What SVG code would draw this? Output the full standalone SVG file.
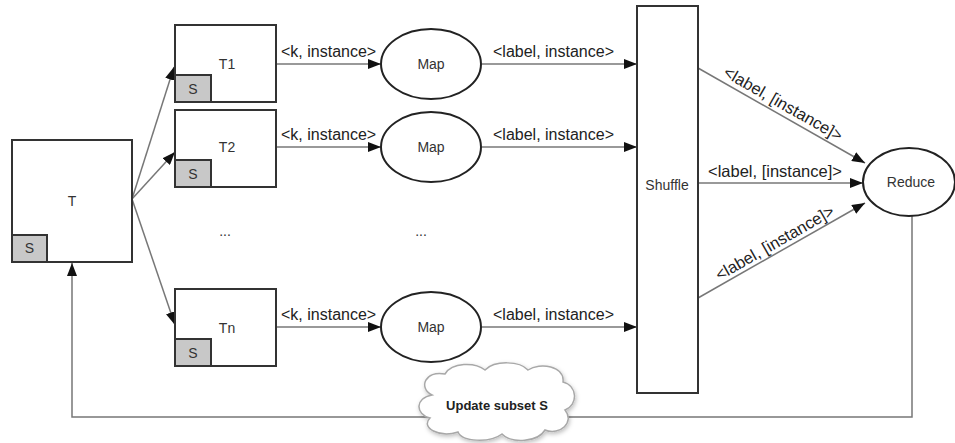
<svg xmlns="http://www.w3.org/2000/svg" width="955" height="443" viewBox="0 0 955 443">
<defs>
<marker id="arr" markerUnits="userSpaceOnUse" markerWidth="14" markerHeight="10" refX="13" refY="5" orient="auto">
<path d="M0,0 L13,5 L0,10 Z" fill="#111"/>
</marker>
<filter id="sh" x="-20%" y="-20%" width="140%" height="150%">
<feDropShadow dx="1" dy="2" stdDeviation="2" flood-color="#000" flood-opacity="0.25"/>
</filter>
</defs>
<style>
.box{fill:#fff;stroke:#333;stroke-width:2}
.sbox{fill:#c8c8c8;stroke:#333;stroke-width:2}
.ell{fill:#fff;stroke:#222;stroke-width:2}
.con{fill:none;stroke:#777;stroke-width:1.5}
.lbl{font-family:"Liberation Sans",Arial,sans-serif;font-size:16px;fill:#222}
.nt{font-family:"Liberation Sans",Arial,sans-serif;font-size:14px;fill:#333;text-anchor:middle}
</style>
<rect width="955" height="443" fill="#fff"/>

<g id="connectors">
<line class="con" x1="132" y1="199" x2="174" y2="67" marker-end="url(#arr)"/>
<line class="con" x1="132" y1="199" x2="175" y2="152" marker-end="url(#arr)"/>
<line class="con" x1="132" y1="199" x2="175" y2="325" marker-end="url(#arr)"/>
<line class="con" x1="276" y1="64" x2="381" y2="64" marker-end="url(#arr)"/>
<line class="con" x1="276" y1="147" x2="381" y2="147" marker-end="url(#arr)"/>
<line class="con" x1="276" y1="327" x2="381" y2="327" marker-end="url(#arr)"/>
<line class="con" x1="482" y1="64" x2="637" y2="64" marker-end="url(#arr)"/>
<line class="con" x1="482" y1="147" x2="637" y2="147" marker-end="url(#arr)"/>
<line class="con" x1="482" y1="327" x2="637" y2="327" marker-end="url(#arr)"/>
<line class="con" x1="698" y1="68" x2="865" y2="163" marker-end="url(#arr)"/>
<line class="con" x1="698" y1="183" x2="863" y2="183" marker-end="url(#arr)"/>
<line class="con" x1="698" y1="298" x2="865" y2="203" marker-end="url(#arr)"/>
<polyline class="con" points="912,216 912,417 72,417 72,263" marker-end="url(#arr)"/>
<text class="lbl" x="281" y="57">&lt;k, instance&gt;</text>
<text class="lbl" x="281" y="140">&lt;k, instance&gt;</text>
<text class="lbl" x="281" y="320">&lt;k, instance&gt;</text>
<text class="lbl" x="493" y="57">&lt;label, instance&gt;</text>
<text class="lbl" x="493" y="140">&lt;label, instance&gt;</text>
<text class="lbl" x="493" y="320">&lt;label, instance&gt;</text>
<text class="lbl" x="708" y="177" style="font-size:16.5px">&lt;label, [instance]&gt;</text>
<g transform="translate(778,113) rotate(29.6)"><text class="lbl" x="0" y="-5" text-anchor="middle" style="font-size:16.5px">&lt;label, [instance]&gt;</text></g>
<g transform="translate(780,252) rotate(-29.8)"><text class="lbl" x="0" y="-5" text-anchor="middle" style="font-size:16.5px">&lt;label, [instance]&gt;</text></g>
</g>

<g id="T">
<rect class="box" x="12" y="140" width="120" height="122"/>
<rect class="sbox" x="12" y="235" width="35" height="27"/>
<text class="nt" x="72" y="206">T</text>
<text class="nt" x="29.5" y="253">S</text>
</g>

<g id="T1">
<rect class="box" x="175" y="25" width="101" height="77"/>
<rect class="sbox" x="175" y="75" width="36" height="27"/>
<text class="nt" x="227" y="69">T1</text>
<text class="nt" x="193" y="94">S</text>
</g>

<g id="T2">
<rect class="box" x="175" y="110" width="101" height="77"/>
<rect class="sbox" x="175" y="160" width="36" height="27"/>
<text class="nt" x="227" y="152">T2</text>
<text class="nt" x="193" y="179">S</text>
</g>

<g id="dots">
<text class="nt" x="225" y="236">...</text>
<text class="nt" x="421" y="236">...</text>
</g>

<g id="Tn">
<rect class="box" x="175" y="289" width="101" height="77"/>
<rect class="sbox" x="175" y="339" width="36" height="27"/>
<text class="nt" x="227" y="333">Tn</text>
<text class="nt" x="193" y="358">S</text>
</g>

<g id="Map1">
<ellipse class="ell" cx="431" cy="64" rx="50" ry="35"/>
<text class="nt" x="431" y="69">Map</text>
</g>
<g id="Map2">
<ellipse class="ell" cx="431" cy="147" rx="50" ry="35"/>
<text class="nt" x="431" y="152">Map</text>
</g>
<g id="Map3">
<ellipse class="ell" cx="431" cy="327" rx="50" ry="35"/>
<text class="nt" x="431" y="332">Map</text>
</g>

<g id="Shuffle">
<rect class="box" x="637" y="6" width="61" height="387"/>
<text class="nt" x="667" y="190">Shuffle</text>
</g>

<g id="Reduce">
<ellipse class="ell" cx="909" cy="182" rx="46" ry="34"/>
<text class="nt" x="911" y="187">Reduce</text>
</g>

<g id="Update">
<path filter="url(#sh)" d="M432,395 C418,388 425,370 445,374 C452,362 475,362 485,370 C495,360 520,361 528,370 C540,362 565,366 563,382 C578,386 578,405 565,410 C575,422 560,436 545,430 C538,442 512,444 502,434 C490,443 462,442 458,432 C440,438 420,428 430,418 C415,414 415,398 432,395 Z" fill="#fff" stroke="#a8a8a8" stroke-width="1.5"/>
<text x="497" y="410" text-anchor="middle" style="font-family:'Liberation Sans',Arial,sans-serif;font-size:13px;font-weight:bold;fill:#222">Update subset S</text>
</g>
</svg>
